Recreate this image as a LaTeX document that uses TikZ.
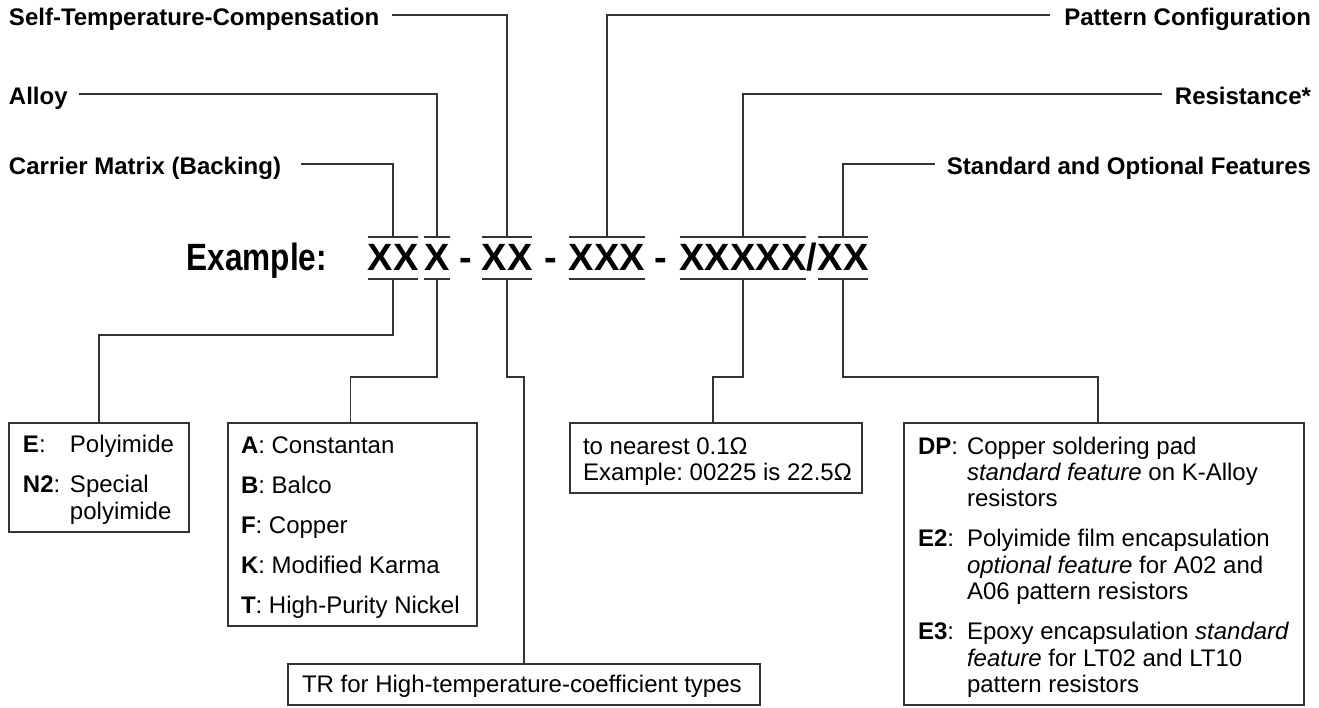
\documentclass[tikz,border=0pt]{standalone}
\usepackage{fontspec}
\setmainfont{Liberation Sans}
\newfontfamily\exfont{Liberation Sans}[FakeStretch=0.83]
\usepackage{array}
\frenchspacing
\tikzset{
  ln/.style={line width=1.3pt, draw=black!80},
  box/.style={draw=black!80, line width=1.3pt, inner sep=0pt, outer sep=0pt, anchor=north west},
  lab/.style={font=\fontsize{24}{28}\selectfont\bfseries, inner sep=0pt, outer sep=0pt, text height=17.2pt, text depth=0pt},
  code/.style={font=\fontsize{38}{44}\selectfont\bfseries, inner sep=0pt, outer sep=0pt, text height=27pt, text depth=0pt},
  txt/.style={font=\fontsize{24}{26.3}\selectfont\frenchspacing, inner sep=0pt, outer sep=0pt, anchor=base west},
  txtw/.style={font=\fontsize{24}{27}\selectfont\frenchspacing, inner sep=0pt, outer sep=0pt, anchor=base west}
}
\begin{document}
\begin{tikzpicture}[x=1pt,y=-1pt]
\useasboundingbox (0,0) rectangle (1319,707);

% top labels
\node[lab, anchor=west] (stc) at (9,17) {Self-Temperature-Compensation};
\node[lab, anchor=west] (alloy) at (9,96) {Alloy};
\node[lab, anchor=west] (carrier) at (9,166) {Carrier Matrix (Backing)};
\node[lab, anchor=east] (pattern) at (1311,17) {Pattern Configuration};
\node[lab, anchor=east] (resist) at (1311,96) {Resistance*};
\node[lab, anchor=east] (feat) at (1311,166) {Standard and Optional Features};

% example code
\node[code, anchor=east] (ex) at (327,256.5) {\exfont\bfseries Example:};
\node[code] (g1) at (393,256.5) {XX};
\node[code] (g2) at (437,256.5) {X};
\node[code] (d1) at (466,256.5) {-};
\node[code] (g3) at (507,256.5) {XX};
\node[code] (d2) at (551,256.5) {-};
\node[code] (g4) at (607,256.5) {XXX};
\node[code] (d3) at (661,256.5) {-};
\node[code] (g5) at (743,256.5) {XXXXX};
\node[code] (sl) at (812,256.5) {/};
\node[code] (g6) at (843,256.5) {XX};

\foreach \g in {g1,g2,g3,g4,g5,g6}{
  \draw[ln] ([yshift=6pt]\g.north west) -- ([yshift=6pt]\g.north east);
  \draw[ln] ([yshift=-9pt]\g.south west) -- ([yshift=-9pt]\g.south east);
  \coordinate (\g t) at ([yshift=6pt]\g.north);
  \coordinate (\g b) at ([yshift=-9pt]\g.south);
}

% top connectors
\draw[ln] ([xshift=13pt,yshift=2pt]stc.east) -| (g3t);
\draw[ln] ([xshift=11pt,yshift=2pt]alloy.east) -| (g2t);
\draw[ln] ([xshift=20pt,yshift=2pt]carrier.east) -| (g1t);
\draw[ln] ([xshift=-14pt,yshift=2pt]pattern.west) -| (g4t);
\draw[ln] ([xshift=-13pt,yshift=2pt]resist.west) -| (g5t);
\draw[ln] ([xshift=-12pt,yshift=2pt]feat.west) -| (g6t);

% boxes
\node[box, minimum width=180pt, minimum height=109pt] (cbox) at (9,423) {};
\node[box, minimum width=249pt, minimum height=203pt] (abox) at (228,423) {};
\node[box, minimum width=292pt, minimum height=70pt] (rbox) at (570,423) {};
\node[box, minimum width=400pt, minimum height=282pt] (fbox) at (904,423) {};
\node[box, minimum width=472pt, minimum height=41pt] (trbox) at (288,664) {};

% bottom connectors
\draw[ln] (g1b) -- ++(0,56) -| (cbox.north);
\draw[ln] (g2b) -- ++(0,98) -| ([xshift=-2pt]abox.north);
\draw[ln] (g3b) -- ++(0,98) -| (trbox.north);
\draw[ln] (g5b) -- ++(0,98) -| ([xshift=-3pt]rbox.north);
\draw[ln] (g6b) -- ++(0,98) -| ([xshift=-6pt]fbox.north);

% box texts
\node[txtw] (ctext) at (23,452) {\begin{tabular}[t]{@{}p{47pt}@{}l@{}}
\textbf{E}: & Polyimide\\[13pt]
\textbf{N2}: & Special\\
 & polyimide
\end{tabular}};

\node[txtw] (atext) at (241,453) {\begin{tabular}[t]{@{}l@{}}
\textbf{A}: Constantan\\[13pt]
\textbf{B}: Balco\\[13pt]
\textbf{F}: Copper\\[13pt]
\textbf{K}: Modified Karma\\[13pt]
\textbf{T}: High-Purity Nickel
\end{tabular}};

\node[txt] (rtext) at (583,454) {\begin{tabular}[t]{@{}l@{}}
to nearest 0.1Ω\\
Example: 00225 is 22.5Ω
\end{tabular}};

\node[txt] (ftext) at (918,454) {\begin{tabular}[t]{@{}p{49pt}@{}l@{}}
\textbf{DP}: & Copper soldering pad\\
 & \textit{standard feature} on K-Alloy\\
 & resistors\\[14pt]
\textbf{E2}: & Polyimide film encapsulation\\
 & \textit{optional feature} for A02 and\\
 & A06 pattern resistors\\[14pt]
\textbf{E3}: & Epoxy encapsulation \textit{standard}\\
 & \textit{feature} for LT02 and LT10\\
 & pattern resistors
\end{tabular}};

\node[txt] (trtext) at (302,692) {TR for High-temperature-coefficient types};
\end{tikzpicture}
\end{document}
